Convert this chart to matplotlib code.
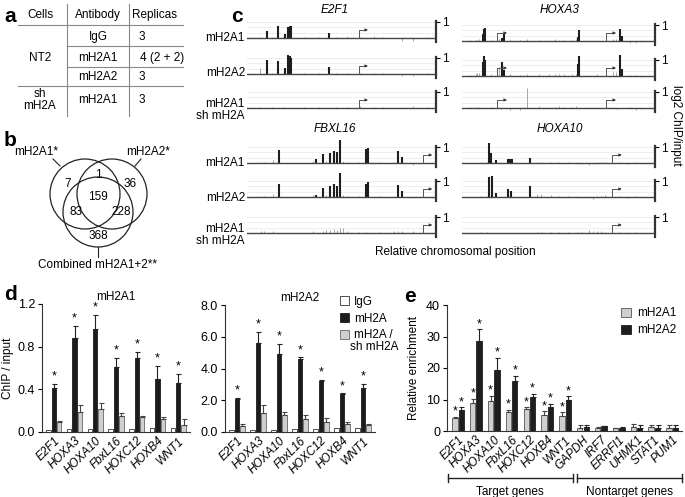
import matplotlib
matplotlib.use('Agg')
import matplotlib.pyplot as plt
from matplotlib.patches import Circle, Patch
import numpy as np

plt.rcParams['font.family'] = ['Liberation Sans', 'DejaVu Sans']
plt.rcParams['font.size'] = 8.5

# ---------------- data ----------------
# panel a
table_header = ["Cells", "Antibody", "Replicas"]
table_antibody = ["IgG", "mH2A1", "mH2A2", "mH2A1"]
table_replicas = ["3", "4 (2 + 2)", "3", "3"]
table_cells = ["NT2", "sh\nmH2A"]

# panel b (Venn counts)
venn_only1, venn_12, venn_only2 = 7, 1, 36
venn_all, venn_1c, venn_2c, venn_onlyc = 159, 83, 228, 368
venn_labels = ["mH2A1*", "mH2A2*", "Combined mH2A1+2**"]

# panel c tracks: major bars (pos, height), minor bars, TSS positions
e2f1_tss = [0.59]
e2f1_pos = [0.106, 0.164, 0.203, 0.217, 0.226, 0.235, 0.432]
e2f1_h1 = [0.45, 0.78, 0.27, 0.67, 0.78, 0.78, 0.33]
e2f1_h2 = [0.90, 0.83, 0.38, 1.20, 1.10, 1.00, 0.45]
e2f1_min_pos = [0.03, 0.07, 0.13, 0.19, 0.30, 0.38, 0.47, 0.53, 0.60, 0.67, 0.72, 0.82, 0.88, 0.95]
e2f1_min_h1 = [0.05, 0.04, 0.05, 0.06, 0.04, 0.05, 0.05, 0.10, 0.08, 0.12, 0.05, -0.20, -0.20, 0.05]
e2f1_min_h2 = [0.05, 0.38, 0.05, 0.06, 0.05, 0.05, 0.05, 0.08, 0.06, 0.06, 0.05, -0.10, -0.12, 0.05]
e2f1_min_h3 = [0.06, 0.04, 0.05, 0.08, 0.04, 0.06, 0.08, 0.06, 0.10, 0.06, 0.08, 0.05, 0.12, 0.05]

hoxa3_tss = [0.183, 0.748]
hoxa3_pos1 = [0.108, 0.113, 0.118, 0.209, 0.218, 0.600, 0.605, 0.820, 0.830]
hoxa3_h1 = [0.44, 0.78, 0.84, 0.18, 0.44, 0.27, 0.67, 0.78, 0.33]
hoxa3_pos2 = [0.108, 0.113, 0.118, 0.209, 0.218, 0.600, 0.605, 0.820, 0.830]
hoxa3_h2 = [0.90, 1.22, 1.00, 0.90, 0.40, 0.78, 1.22, 1.33, 0.44]
hoxa3_min_pos = [0.04, 0.07, 0.08, 0.09, 0.15, 0.19, 0.20, 0.25, 0.30, 0.339, 0.40, 0.45, 0.48, 0.50, 0.53,
                 0.57, 0.59, 0.66, 0.70, 0.78, 0.80, 0.87, 0.90, 0.93]
hoxa3_min_h1 = [0.05, 0.08, 0.06, 0.10, 0.06, 0.10, 0.15, 0.05, 0.05, 0.15, 0.05, 0.08, 0.10, 0.08, 0.06,
                0.05, 0.10, 0.05, 0.06, 0.12, 0.10, -0.12, -0.10, -0.08]
hoxa3_min_h2 = [0.08, 0.15, 0.20, 0.18, 0.10, 0.55, 0.50, 0.10, 0.08, 0.10, 0.10, 0.12, 0.15, 0.10, 0.12,
                0.10, 0.12, 0.08, 0.10, 0.25, 0.25, 0.06, 0.05, -0.05]
hoxa3_min_h3 = [0.04, 0.05, 0.03, 0.04, 0.05, 0.08, -0.08, -0.10, -0.12, 1.27, 0.10, 0.06, 0.08, 0.10, 0.06,
                0.05, 0.12, 0.06, 0.04, 0.05, -0.06, 0.05, -0.10, -0.05]

fbxl16_tss = [0.93]
fbxl16_pos = [0.168, 0.365, 0.400, 0.441, 0.459, 0.476, 0.494, 0.631, 0.640, 0.799, 0.820]
fbxl16_h1 = [0.84, 0.22, 0.55, 0.62, 0.78, 0.67, 1.44, 0.89, 0.95, 0.73, 0.40]
fbxl16_h2 = [0.84, 0.15, 0.55, 0.67, 0.84, 0.70, 1.49, 0.84, 0.95, 0.73, 0.38]
fbxl16_min_pos = [0.075, 0.088, 0.138, 0.35, 0.42, 0.51, 0.53, 0.59, 0.63, 0.70, 0.78, 0.88]
fbxl16_min_h1 = [0.05, 0.05, 0.18, 0.12, 0.10, 0.10, 0.05, 0.08, 0.05, 0.08, 0.06, -0.10]
fbxl16_min_h2 = [0.05, 0.05, 0.18, 0.10, 0.12, 0.10, 0.05, 0.06, 0.05, 0.05, 0.06, -0.08]
fbxl16_min_h3 = [0.15, 0.10, 0.15, 0.10, 0.18, 0.30, 0.15, 0.05, 0.06, 0.05, 0.12, 0.10]
fbxl16_sh_pos = [0.40, 0.42, 0.44, 0.459, 0.476, 0.494, 0.80, 0.82]
fbxl16_sh_h = [0.10, 0.12, 0.20, 0.25, 0.20, 0.30, 0.12, 0.15]

hoxa10_tss = [0.778]
hoxa10_pos1 = [0.141, 0.150, 0.176, 0.238, 0.250, 0.261, 0.352]
hoxa10_h1 = [1.22, 0.62, 0.18, 0.27, 0.22, 0.22, 0.33]
hoxa10_pos2 = [0.138, 0.153, 0.176, 0.238, 0.255, 0.352]
hoxa10_h2 = [1.27, 1.31, 0.22, 0.53, 0.38, 0.67]
hoxa10_min_pos = [0.10, 0.13, 0.39, 0.41, 0.46, 0.50, 0.55, 0.60, 0.62, 0.66, 0.68, 0.70, 0.72, 0.74, 0.82, 0.86, 0.90]
hoxa10_min_h1 = [0.04, 0.05, 0.06, 0.05, 0.05, 0.04, 0.05, 0.06, -0.08, -0.10, -0.06, 0.06, 0.05, 0.08, 0.05, -0.05, 0.05]
hoxa10_min_h2 = [0.04, 0.05, 0.20, 0.20, 0.10, 0.05, 0.06, 0.05, -0.06, -0.08, -0.10, 0.05, 0.06, 0.10, 0.05, -0.04, 0.05]
hoxa10_min_h3 = [0.04, 0.05, 0.05, 0.04, 0.05, 0.04, 0.06, 0.05, 0.06, 0.20, 0.12, 0.10, 0.12, 0.08, 0.05, -0.06, 0.05]

# panel d
d_genes = ["E2F1", "HOXA3", "HOXA10", "FbxL16", "HOXC12", "HOXB4", "WNT1"]
d1_igg = [0.02, 0.03, 0.03, 0.03, 0.03, 0.04, 0.04]
d1_mh2a = [0.41, 0.88, 0.97, 0.61, 0.69, 0.50, 0.46]
d1_mh2a_err = [0.04, 0.11, 0.13, 0.08, 0.06, 0.12, 0.08]
d1_sh = [0.09, 0.19, 0.22, 0.15, 0.14, 0.12, 0.07]
d1_sh_err = [0.01, 0.06, 0.05, 0.03, 0.01, 0.02, 0.05]
d2_igg = [0.10, 0.10, 0.15, 0.20, 0.20, 0.25, 0.25]
d2_mh2a = [2.05, 5.60, 4.90, 4.60, 3.20, 2.40, 2.75]
d2_mh2a_err = [0.10, 0.70, 0.65, 0.10, 0.10, 0.05, 0.30]
d2_sh = [0.40, 1.20, 1.10, 0.80, 0.65, 0.50, 0.45]
d2_sh_err = [0.10, 0.50, 0.15, 0.25, 0.25, 0.15, 0.05]
d_legend = ["IgG", "mH2A", "mH2A /"]

# panel e
e_genes = ["E2F1", "HOXA3", "HOXA10", "FbxL16", "HOXC12", "HOXB4", "WNT1",
           "GAPDH", "IRF7", "ERRFI1", "UHMK1", "STAT1", "PUM1"]
e_a1 = [4.0, 8.8, 9.5, 5.9, 7.0, 5.0, 4.9, 1.0, 1.0, 0.8, 1.3, 1.2, 1.1]
e_a1_err = [0.5, 1.5, 1.7, 0.8, 0.6, 1.2, 1.0, 0.8, 0.4, 0.3, 0.9, 0.7, 0.9]
e_a2 = [6.8, 28.5, 19.3, 16.0, 10.8, 7.6, 9.8, 1.3, 1.5, 0.8, 1.0, 1.0, 1.1]
e_a2_err = [0.8, 3.8, 4.0, 1.6, 1.0, 1.0, 1.3, 0.5, 0.1, 0.4, 0.8, 0.8, 0.8]
e_n_target = 7

# ---------------- figure ----------------
W, H = 685, 497
fig = plt.figure(figsize=(W / 100, H / 100), dpi=100)


def add_ax(x0, y0, x1, y1):
    return fig.add_axes([x0 / W, 1 - y1 / H, (x1 - x0) / W, (y1 - y0) / H])


ov = add_ax(0, 0, W, H)
ov.set_xlim(0, W)
ov.set_ylim(H, 0)
ov.axis('off')

for letter, (lx, ly) in zip("abcde", [(4, 16), (4, 141), (231, 16), (4, 294), (404, 297)]):
    ov.text(lx, ly, letter, fontsize=15, fontweight='bold', ha='left', va='center')

# ---- panel a: table ----
col_x = [40, 98, 155]
for t, x in zip(table_header, col_x):
    ov.text(x, 15, t, ha='center', va='center')
row_y = [37, 58, 77, 100]
for ab, rp, y in zip(table_antibody, table_replicas, row_y):
    ov.text(98, y, ab, ha='center', va='center')
    ov.text(142 if rp == "3" else 162, y, rp, ha='center', va='center')
ov.text(40, 58, table_cells[0], ha='center', va='center')
ov.text(40, 100, table_cells[1], ha='center', va='center', linespacing=1.0)
ov.plot([18, 183], [25, 25], color='#888', lw=0.8)
ov.plot([67, 183], [46, 46], color='#888', lw=0.8)
ov.plot([67, 183], [67, 67], color='#888', lw=0.8)
ov.plot([18, 183], [86, 86], color='#888', lw=0.8)
ov.plot([67, 67], [4, 116], color='#888', lw=0.8)
ov.plot([129, 129], [4, 116], color='#888', lw=0.8)

# ---- panel b: Venn ----
r = 35
for cx, cy in [(85, 194), (112, 194), (98, 212)]:
    ov.add_patch(Circle((cx, cy), r, fill=False, ec='#222', lw=0.9))
for val, (x, y) in zip([venn_only1, venn_12, venn_only2, venn_all, venn_1c, venn_2c, venn_onlyc],
                       [(68, 184), (98, 175), (130, 184), (98, 197), (76, 212), (121, 212), (98, 236)]):
    ov.text(x, y, str(val), ha='center', va='center')
ov.text(36, 152, venn_labels[0], ha='center', va='center')
ov.text(148, 152, venn_labels[1], ha='center', va='center')
ov.text(98, 265, venn_labels[2], ha='center', va='center')
ov.plot([53, 60], [159, 166], color='#222', lw=0.8)
ov.plot([141, 135], [159, 166], color='#222', lw=0.8)
ov.plot([98, 98], [247, 257], color='#222', lw=0.8)


# ---- panel c: tracks ----
def track(x0, x1, yb, pos, h, mpos, mh, tss):
    ax = add_ax(x0, yb - 24, x1, yb + 8)
    ax.set_xlim(0, 1)
    ax.set_ylim(-0.5, 1.5)
    for gy in [0.33, 0.67, 1.0]:
        ax.axhline(gy, color='#ebebeb', lw=0.6, zorder=0)
    ax.vlines(mpos, 0, mh, color='#9a9a9a', lw=0.6, zorder=2)
    ax.vlines(pos, 0, h, color='#1e1e1e', lw=1.5, zorder=3)
    ax.axhline(0, color='#444', lw=1.0, zorder=4)
    for t in tss:
        ax.plot([t, t, t + 0.03], [0, 0.5, 0.5], color='#555', lw=0.7, zorder=5)
        ax.annotate('', xy=(t + 0.05, 0.5), xytext=(t + 0.025, 0.5),
                    arrowprops=dict(arrowstyle='-|>', lw=0.6, color='#333', mutation_scale=4))
    for s in ['top', 'left', 'bottom']:
        ax.spines[s].set_visible(False)
    ax.spines['right'].set_bounds(-0.25, 1.05)
    ax.spines['right'].set_linewidth(1.6)
    ax.spines['right'].set_color('#333')
    ax.yaxis.tick_right()
    ax.set_yticks([1])
    ax.set_yticklabels(['1'])
    ax.tick_params(axis='y', length=3, width=0.8, pad=1, labelsize=8.5)
    ax.set_xticks([])
    ax.patch.set_alpha(0)
    return ax


LX0, LX1, RX0, RX1 = 247, 436, 462, 655
track(LX0, LX1, 38, e2f1_pos, e2f1_h1, e2f1_min_pos, e2f1_min_h1, e2f1_tss)
track(LX0, LX1, 74, e2f1_pos, e2f1_h2, e2f1_min_pos, e2f1_min_h2, e2f1_tss)
track(LX0, LX1, 108, [], [], e2f1_min_pos, e2f1_min_h3, e2f1_tss)
track(RX0, RX1, 41, hoxa3_pos1, hoxa3_h1, hoxa3_min_pos, hoxa3_min_h1, hoxa3_tss)
track(RX0, RX1, 76, hoxa3_pos2, hoxa3_h2, hoxa3_min_pos, hoxa3_min_h2, hoxa3_tss)
track(RX0, RX1, 108, [], [], hoxa3_min_pos, hoxa3_min_h3, hoxa3_tss)
track(LX0, LX1, 163, fbxl16_pos, fbxl16_h1, fbxl16_min_pos, fbxl16_min_h1, fbxl16_tss)
track(LX0, LX1, 197, fbxl16_pos, fbxl16_h2, fbxl16_min_pos, fbxl16_min_h2, fbxl16_tss)
track(LX0, LX1, 233, [], [], fbxl16_min_pos + fbxl16_sh_pos, fbxl16_min_h3 + fbxl16_sh_h, fbxl16_tss)
track(RX0, RX1, 163, hoxa10_pos1, hoxa10_h1, hoxa10_min_pos, hoxa10_min_h1, hoxa10_tss)
track(RX0, RX1, 197, hoxa10_pos2, hoxa10_h2, hoxa10_min_pos, hoxa10_min_h2, hoxa10_tss)
track(RX0, RX1, 233, [], [], hoxa10_min_pos, hoxa10_min_h3, hoxa10_tss)

for yb in [38, 163]:
    ov.text(245, yb, "mH2A1", ha='right', va='center')
    ov.text(245, yb + 35, "mH2A2", ha='right', va='center')
    ov.text(245, yb + 66, "mH2A1", ha='right', va='center')
    ov.text(245, yb + 78, "sh mH2A", ha='right', va='center')
ov.text(335, 10, "E2F1", ha='center', va='center', style='italic')
ov.text(560, 10, "HOXA3", ha='center', va='center', style='italic')
ov.text(335, 129, "FBXL16", ha='center', va='center', style='italic')
ov.text(560, 129, "HOXA10", ha='center', va='center', style='italic')
ov.text(455, 252, "Relative chromosomal position", ha='center', va='center')
ov.text(676, 125, "log2 ChIP/input", ha='center', va='center', rotation=-90)


# ---- panel d ----
def style_bar_ax(ax):
    ax.spines['top'].set_visible(False)
    ax.spines['right'].set_visible(False)
    ax.spines['left'].set_color('#333')
    ax.spines['bottom'].set_color('#333')
    ax.tick_params(axis='y', length=3, width=0.8, pad=2, labelsize=9)
    ax.tick_params(axis='x', length=0, pad=2, labelsize=8.5)
    ax.patch.set_alpha(0)


def panel_d(box, igg, mh, mh_err, sh, sh_err, ymax, yticks, fmt, title, star_off):
    ax = add_ax(*box)
    x = np.arange(len(d_genes))
    w, off = 0.21, 0.26
    ax.bar(x - off, igg, w, color='white', edgecolor='#333', lw=0.6)
    ax.bar(x, mh, w, color='#1c1c1c', edgecolor='#1c1c1c', lw=0.6)
    ax.bar(x + off, sh, w, color='#cfcfcf', edgecolor='#666', lw=0.6)
    ax.errorbar(x, mh, yerr=[np.zeros(len(x)), mh_err], fmt='none', ecolor='#222',
                elinewidth=0.8, capsize=1.8, capthick=0.8)
    ax.errorbar(x + off, sh, yerr=[np.zeros(len(x)), sh_err], fmt='none', ecolor='#444',
                elinewidth=0.8, capsize=1.8, capthick=0.8)
    for xi, v, e in zip(x, mh, mh_err):
        ax.text(xi, v + e + star_off, '*', ha='center', va='center', fontsize=9)
    ax.set_xlim(-0.57, len(x) - 0.43)
    ax.set_ylim(0, ymax)
    ax.set_yticks(yticks)
    ax.set_yticklabels([fmt.format(t) for t in yticks])
    ax.set_xticks(x)
    ax.set_xticklabels(d_genes, rotation=45, ha='right', rotation_mode='anchor', style='italic')
    ax.set_title(title, fontsize=8.5, pad=3)
    style_bar_ax(ax)
    return ax


axd1 = panel_d((42, 304, 190, 432), d1_igg, d1_mh2a, d1_mh2a_err, d1_sh, d1_sh_err,
               1.2, [0.0, 0.4, 0.8, 1.2], "{:.1f}", "mH2A1", 0.07)
axd1.set_ylabel("ChIP / input", labelpad=3)
axd2 = panel_d((225, 305, 375, 432), d2_igg, d2_mh2a, d2_mh2a_err, d2_sh, d2_sh_err,
               8.0, [0.0, 2.0, 4.0, 6.0, 8.0], "{:.1f}", "mH2A2", 0.45)
leg_handles = [Patch(facecolor='white', edgecolor='#333', lw=0.6),
               Patch(facecolor='#1c1c1c', edgecolor='#1c1c1c', lw=0.6),
               Patch(facecolor='#cfcfcf', edgecolor='#666', lw=0.6)]
axd2.legend(leg_handles, d_legend, loc='upper left', bbox_to_anchor=(334 / W, 1 - 290 / H),
            bbox_transform=fig.transFigure, frameon=False, handlelength=0.8, handleheight=0.8,
            handletextpad=0.4, labelspacing=0.4, borderpad=0, fontsize=8.5)
ov.text(350, 347, "sh mH2A", ha='left', va='center')

# ---- panel e ----
axe = add_ax(447, 305, 682, 431)
xe = np.arange(len(e_genes))
we, offe = 0.3, 0.18
axe.bar(xe - offe, e_a1, we, color='#cfcfcf', edgecolor='#555', lw=0.6, label='mH2A1')
axe.bar(xe + offe, e_a2, we, color='#1e1e1e', edgecolor='#1e1e1e', lw=0.6, label='mH2A2')
axe.errorbar(xe - offe, e_a1, yerr=[np.zeros(len(xe)), e_a1_err], fmt='none', ecolor='#444',
             elinewidth=0.8, capsize=1.8, capthick=0.8)
axe.errorbar(xe + offe, e_a2, yerr=[np.zeros(len(xe)), e_a2_err], fmt='none', ecolor='#222',
             elinewidth=0.8, capsize=1.8, capthick=0.8)
for i in range(e_n_target):
    axe.text(xe[i] - offe, e_a1[i] + e_a1_err[i] + 1.6, '*', ha='center', va='center', fontsize=9)
    axe.text(xe[i] + offe, e_a2[i] + e_a2_err[i] + 1.6, '*', ha='center', va='center', fontsize=9)
axe.set_xlim(-0.62, len(xe) - 0.45)
axe.set_ylim(0, 40)
axe.set_yticks([0, 10, 20, 30, 40])
axe.set_xticks(xe)
axe.set_xticklabels(e_genes, rotation=45, ha='right', rotation_mode='anchor', style='italic')
axe.set_ylabel("Relative enrichment", labelpad=4)
style_bar_ax(axe)
axe.tick_params(axis='x', labelsize=8.5)
axe.legend(loc='upper right', bbox_to_anchor=(1.0, 1.03), frameon=False, handlelength=0.8,
           handleheight=0.8, handletextpad=0.5, labelspacing=0.45, borderpad=0, fontsize=8.5)

# bracket for target / nontarget genes
for xa, xb in [(448, 573), (577, 682)]:
    ov.plot([xa, xb], [478, 478], color='#222', lw=1.0)
    ov.plot([xa, xa], [474, 482], color='#222', lw=1.0)
    ov.plot([xb, xb], [474, 482], color='#222', lw=1.0)
ov.text(510, 492, "Target genes", ha='center', va='center')
ov.text(630, 492, "Nontarget genes", ha='center', va='center')

fig.savefig('out.png', dpi=100)
